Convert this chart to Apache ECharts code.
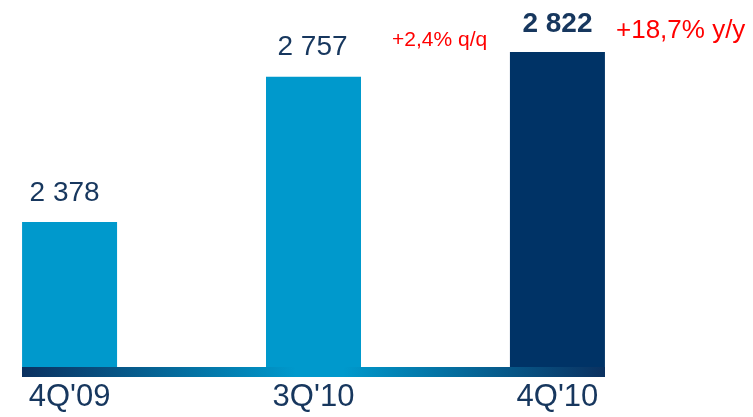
<!DOCTYPE html>
<html><head><meta charset="utf-8">
<script src="https://cdn.jsdelivr.net/npm/echarts@6/dist/echarts.min.js"></script>
<style>html,body{margin:0;padding:0;background:#fff}#c{width:753px;height:417px}</style>
</head><body><div id="c"></div>
<script>
const categories = ["4Q'09", "3Q'10", "4Q'10"];
const values = [2378, 2757, 2822];
const barColors = ['#0099CC', '#0099CC', '#003366'];
const boldLabel = [false, false, true];
const qqText = '+2,4% q/q';
const yyText = '+18,7% y/y';

const fmt = v => String(v).replace(/\B(?=(\d{3})+(?!\d))/g, ' ');
const labelOffsets = [[-5, -1], [-1, -2], [0, 0]];
const chart = echarts.init(document.getElementById('c'), null, {renderer: 'canvas'});
chart.setOption({
  animation: false,
  grid: {left: 22, right: 148, top: 22, bottom: 50},
  xAxis: {
    type: 'value', min: -0.195, max: 2.195, offset: 5,
    splitLine: {show: false},
    axisTick: {show: false},
    axisLine: {show: true, lineStyle: {width: 10, cap: 'butt', color: {
      type: 'linear', x: 0, y: 0, x2: 1, y2: 0,
      colorStops: [
        {offset: 0, color: '#0B2F5E'},
        {offset: 0.47, color: '#0099CC'},
        {offset: 0.55, color: '#0099CC'},
        {offset: 1, color: '#0B2F5E'}
      ]}}},
    axisLabel: {
      customValues: [0, 1, 2],
      formatter: v => categories[Math.round(v)],
      fontFamily: 'Liberation Sans, Arial, sans-serif',
      fontSize: 31, color: '#17375E', margin: 10
    }
  },
  yAxis: {type: 'value', min: 2000, max: 2900, show: false},
  series: [{
    type: 'bar', barWidth: 95,
    data: values.map((v, i) => ({
      value: [i, v],
      itemStyle: {color: barColors[i]},
      label: {fontWeight: boldLabel[i] ? 'bold' : 'normal', offset: labelOffsets[i]}
    })),
    label: {
      show: true, position: 'top', distance: 14,
      formatter: p => fmt(p.value[1]),
      fontFamily: 'Liberation Sans, Arial, sans-serif',
      fontSize: 28, color: '#17375E'
    }
  }],
  graphic: [
    {type: 'text', left: 392, top: 30, style: {text: qqText, fill: '#FF0000', fontSize: 21, fontFamily: 'Liberation Sans, Arial, sans-serif'}},
    {type: 'text', left: 616, top: 18, style: {text: yyText, fill: '#FF0000', fontSize: 26, fontFamily: 'Liberation Sans, Arial, sans-serif'}}
  ]
});
</script></body></html>
